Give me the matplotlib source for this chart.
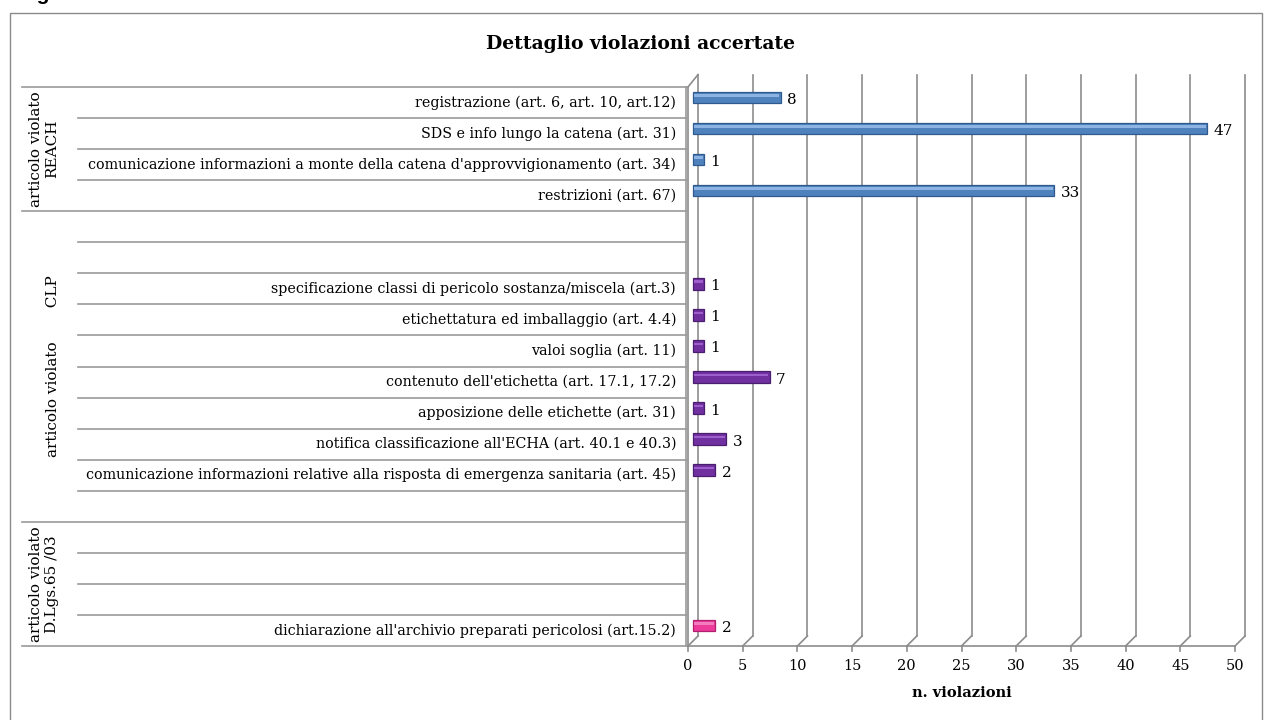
import matplotlib.pyplot as plt
from matplotlib.patches import Rectangle

# dati (righe dall'alto verso il basso)
categorie = [
    "registrazione (art. 6, art. 10, art.12)",
    "SDS e info lungo la catena (art. 31)",
    "comunicazione informazioni a monte della catena d'approvvigionamento (art. 34)",
    "restrizioni (art. 67)",
    "",
    "",
    "specificazione classi di pericolo sostanza/miscela (art.3)",
    "etichettatura ed imballaggio (art. 4.4)",
    "valoi soglia (art. 11)",
    "contenuto dell'etichetta (art. 17.1, 17.2)",
    "apposizione delle etichette (art. 31)",
    "notifica classificazione all'ECHA (art. 40.1 e 40.3)",
    "comunicazione informazioni relative alla risposta di emergenza sanitaria (art. 45)",
    "",
    "",
    "",
    "",
    "dichiarazione all'archivio preparati pericolosi (art.15.2)",
]
valori = [8, 47, 1, 33, None, None, 1, 1, 1, 7, 1, 3, 2, None, None, None, None, 2]
gruppo = ["REACH"] * 4 + ["CLP"] * 10 + ["DLGS"] * 4
gruppi = [
    ("articolo violato\nREACH", 0, 4),
    ("articolo violato       CLP", 4, 14),
    ("articolo violato\nD.Lgs.65 /03", 14, 18),
]
colori = {"REACH": "#4F81BD", "CLP": "#7030A0", "DLGS": "#EC3B9B"}
bordi = {"REACH": "#2E5A8E", "CLP": "#4A1D6E", "DLGS": "#B01E6E"}
luce = {"REACH": "#8DB3E2", "CLP": "#9C5FCB", "DLGS": "#F27DBD"}
tick_x = list(range(0, 55, 5))

W, H = 1268, 720
plt.rcParams['font.family'] = 'DejaVu Serif'
fig = plt.figure(figsize=(W / 100, H / 100), dpi=100)

# cornice
fig.add_artist(Rectangle((10 / W, -0.01), (1262 - 10) / W, 1.01 - 13 / H,
                         transform=fig.transFigure, fill=False,
                         edgecolor='#8a8a8a', lw=1))
fig.text(50 / W, 1.0, "Fig", ha='right', va='baseline', fontsize=15,
         fontweight='bold', family='Liberation Sans')

fig.text(640 / W, 1 - 44 / H, "Dettaglio violazioni accertate", ha='center',
         va='center', fontsize=13.5, fontweight='bold')

n = len(categorie)
x0, x1, ytop, ybot = 688, 1235, 87, 646
ax = fig.add_axes([x0 / W, 1 - ybot / H, (x1 - x0) / W, (ybot - ytop) / H])
ax.set_xlim(0, 50)
ax.set_ylim(n, 0)
ax.axis('off')

# effetto 3D: spostamento della parete di fondo
DX = 10 * 50 / (x1 - x0)
DY = 10 * n / (ybot - ytop)
grid_c = '#8c8c8c'
for t in tick_x:
    ax.plot([t + DX, t + DX], [n - DY, -0.4], color=grid_c, lw=1.2, clip_on=False)
    ax.plot([t, t + DX], [n, n - DY], color=grid_c, lw=1.2, clip_on=False)
    ax.plot([t, t], [n, n + 5 * n / (ybot - ytop)], color=grid_c, lw=1.2, clip_on=False)
    ax.text(t, n + 20 * n / (ybot - ytop), str(t), ha='center', va='center', fontsize=10.5)
ax.plot([0, 50], [n, n], color=grid_c, lw=1.2, clip_on=False)
ax.plot([0, 0], [0, n], color=grid_c, lw=1.2, clip_on=False)
ax.plot([0, DX], [0, -0.4], color=grid_c, lw=1.2, clip_on=False)
ax.text(25, n + 47 * n / (ybot - ytop), "n. violazioni", ha='center', va='center',
        fontsize=10.5, fontweight='bold')

for i, v in enumerate(valori):
    if v is None:
        continue
    g = gruppo[i]
    yc = i + 0.5 - DY / 2
    ax.barh(yc, v, left=DX / 2, height=0.37, color=colori[g], edgecolor=bordi[g],
            lw=0.9, zorder=3, clip_on=False)
    ax.barh(yc - 0.07, v - 0.15, left=DX / 2 + 0.05, height=0.08, color=luce[g],
            lw=0, zorder=4, clip_on=False)
    ax.text(v + DX / 2 + 0.6, i + 0.5 - DY / 4, str(v), ha='left', va='center',
            fontsize=11, zorder=5)

# area etichette
axl = fig.add_axes([22 / W, 1 - ybot / H, (686 - 22) / W, (ybot - ytop) / H])
axl.set_xlim(22, 686)
axl.set_ylim(n, 0)
axl.axis('off')
confini = [0, 4, 14, 18]
for b in range(n + 1):
    xs = 22 if b in confini else 78
    axl.plot([xs, 686], [b, b], color='#9a9a9a', lw=1.2, clip_on=False)
axl.plot([686, 686], [0, n], color='#9a9a9a', lw=1.2, clip_on=False)
for i, lab in enumerate(categorie):
    if lab:
        axl.text(676, i + 0.5, lab, ha='right', va='center', fontsize=10.3)
for testo, a, b in gruppi:
    xc = 53 if "\n" not in testo else 44
    axl.text(xc, (a + b) / 2, testo, rotation=90, ha='center', va='center',
             multialignment='center', fontsize=11, linespacing=1.15)

plt.savefig("out.png", dpi=100)
